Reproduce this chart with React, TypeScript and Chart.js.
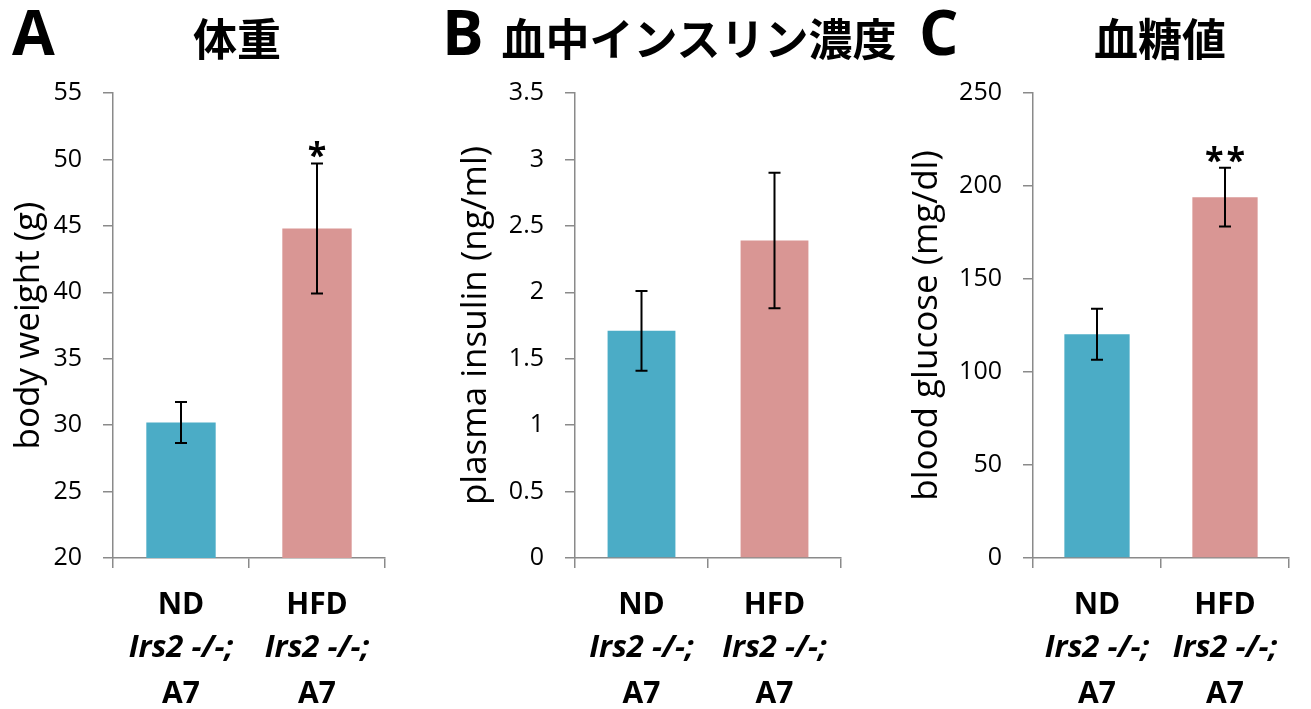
import { useEffect, useRef } from "react";
import { Chart, registerables } from "chart.js";

Chart.register(...registerables);

// Groups and the two fixed lines printed under each group name
const groups = ["ND", "HFD"];
const genotypeLine = "Irs2 -/-;";
const strainLine = "A7";

// Body weight (g): mean, SEM, significance marks, axis [min, max, step]
const bodyWeight = [30.2, 44.8];
const bodyWeightSem = [1.55, 4.9];
const bodyWeightMarks = ["", "*"];
const bodyWeightAxis = [20, 55, 5];

// Plasma insulin (ng/ml)
const insulin = [1.71, 2.39];
const insulinSem = [0.3, 0.51];
const insulinMarks = ["", ""];
const insulinAxis = [0, 3.5, 0.5];

// Blood glucose (mg/dl)
const glucose = [120.3, 194];
const glucoseSem = [13.7, 15.8];
const glucoseMarks = ["", "**"];
const glucoseAxis = [0, 250, 50];

const barColors = ["#4BACC6", "#D99694"];
const axisColor = "#8a8a8a";
const latin = "'Open Sans', 'Noto Sans', sans-serif";
const cjk = "'Noto Sans CJK JP', 'Noto Sans', sans-serif";

// Draws SEM whiskers and significance asterisks above each bar
const errorBarsPlugin = {
  id: "errorBars",
  afterDatasetsDraw(chart: any, _args: any, opts: any) {
    const { ctx } = chart;
    const meta = chart.getDatasetMeta(0);
    const y = chart.scales.y;
    const values = chart.data.datasets[0].data as number[];
    const errs: number[] = opts.errors || [];
    const marks: string[] = opts.marks || [];
    ctx.save();
    ctx.strokeStyle = "#000";
    ctx.fillStyle = "#000";
    ctx.lineWidth = 2;
    meta.data.forEach((bar: any, i: number) => {
      const x = bar.x;
      const top = y.getPixelForValue(values[i] + errs[i]);
      const bot = y.getPixelForValue(values[i] - errs[i]);
      ctx.beginPath();
      ctx.moveTo(x, top);
      ctx.lineTo(x, bot);
      ctx.moveTo(x - 6, top);
      ctx.lineTo(x + 6, top);
      ctx.moveTo(x - 6, bot);
      ctx.lineTo(x + 6, bot);
      ctx.stroke();
      if (marks[i]) {
        ctx.font = `bold 34px ${latin}`;
        ctx.textAlign = "center";
        ctx.textBaseline = "alphabetic";
        (ctx as any).letterSpacing = "3px";
        ctx.fillText(marks[i], x + 1.5, top + 4);
        (ctx as any).letterSpacing = "0px";
      }
    });
    ctx.restore();
  },
};

// Three-line group labels under the x axis (bold / bold italic / bold)
const groupLabelsPlugin = {
  id: "groupLabels",
  afterDraw(chart: any) {
    const { ctx } = chart;
    const xs = chart.scales.x;
    const bottom = chart.chartArea.bottom;
    ctx.save();
    ctx.fillStyle = "#000";
    ctx.textAlign = "center";
    ctx.textBaseline = "alphabetic";
    (chart.data.labels as string[]).forEach((g, i) => {
      const x = xs.getPixelForValue(i);
      ctx.font = `bold 30px ${latin}`;
      ctx.fillText(g, x, bottom + 56);
      ctx.font = `italic bold 31px ${latin}`;
      ctx.fillText(genotypeLine, x, bottom + 99);
      ctx.font = `bold 30px ${latin}`;
      ctx.fillText(strainLine, x, bottom + 145);
    });
    ctx.restore();
  },
};

type PanelProps = {
  values: number[];
  errors: number[];
  marks: string[];
  axis: number[];
  yTitle: string;
  left: number;
  width: number;
  axisOffset: number;
  rightPad: number;
  titlePad: number;
};

function Panel(p: PanelProps) {
  const ref = useRef<HTMLCanvasElement | null>(null);
  useEffect(() => {
    if (!ref.current) return;
    const grid = {
      display: true,
      drawOnChartArea: false,
      drawTicks: true,
      tickLength: 10,
      color: axisColor,
      lineWidth: 1.5,
    };
    const border = { display: true, color: axisColor, width: 1.5 };
    const chart = new Chart(ref.current, {
      type: "bar",
      data: {
        labels: groups,
        datasets: [
          {
            data: p.values,
            backgroundColor: barColors,
            categoryPercentage: 1,
            barPercentage: 0.51,
          },
        ],
      },
      options: {
        responsive: false,
        animation: false,
        layout: { padding: { left: 0, right: p.rightPad, top: 93, bottom: 0 } },
        plugins: {
          legend: { display: false },
          tooltip: { enabled: false },
          errorBars: { errors: p.errors, marks: p.marks },
        } as any,
        scales: {
          x: {
            grid: { ...grid, offset: true },
            border,
            ticks: { display: false },
            afterFit: (s: any) => {
              s.height = 151;
            },
          },
          y: {
            min: p.axis[0],
            max: p.axis[1],
            ticks: {
              stepSize: p.axis[2],
              color: "#000",
              padding: 21,
              font: { family: latin, size: 25 },
              callback: (v: any) => String(parseFloat(Number(v).toFixed(2))),
            },
            grid,
            border,
            title: {
              display: true,
              text: p.yTitle,
              color: "#000",
              font: { family: latin, size: 35 },
              padding: { top: p.titlePad, bottom: 0 },
            },
            afterFit: (s: any) => {
              s.width = p.axisOffset;
            },
          },
        },
      } as any,
      plugins: [errorBarsPlugin, groupLabelsPlugin],
    });
    return () => chart.destroy();
  }, []);
  return (
    <canvas
      ref={ref}
      width={p.width}
      height={709}
      style={{ position: "absolute", left: p.left, top: 0, width: p.width, height: 709 }}
    />
  );
}

const letterStyle = (left: number): any => ({
  position: "absolute",
  left,
  top: 0,
  fontFamily: latin,
  fontWeight: 700,
  fontSize: 62,
  lineHeight: "62px",
  color: "#000",
});

const titleStyle = (center: number): any => ({
  position: "absolute",
  left: center - 250,
  width: 500,
  top: 15,
  textAlign: "center",
  fontFamily: cjk,
  fontWeight: 700,
  fontSize: 44,
  lineHeight: "44px",
  color: "#000",
  whiteSpace: "nowrap",
});

export default function App() {
  useEffect(() => {
    document.body.style.margin = "0";
  }, []);
  return (
    <div style={{ position: "relative", width: 1311, height: 709, background: "#fff", overflow: "hidden" }}>
      <Panel
        values={bodyWeight}
        errors={bodyWeightSem}
        marks={bodyWeightMarks}
        axis={bodyWeightAxis}
        yTitle="body weight (g)"
        left={0}
        width={410}
        axisOffset={113}
        rightPad={25}
        titlePad={8}
      />
      <Panel
        values={insulin}
        errors={insulinSem}
        marks={insulinMarks}
        axis={insulinAxis}
        yTitle="plasma insulin (ng/ml)"
        left={440}
        width={420}
        axisOffset={135}
        rightPad={19}
        titlePad={15}
      />
      <Panel
        values={glucose}
        errors={glucoseSem}
        marks={glucoseMarks}
        axis={glucoseAxis}
        yTitle="blood glucose (mg/dl)"
        left={900}
        width={411}
        axisOffset={133}
        rightPad={22}
        titlePad={6}
      />
      <div style={letterStyle(12)}>A</div>
      <div style={titleStyle(237)}>体重</div>
      <div style={letterStyle(442)}>B</div>
      <div style={titleStyle(699)}>血中インスリン濃度</div>
      <div style={letterStyle(919)}>C</div>
      <div style={titleStyle(1160)}>血糖値</div>
    </div>
  );
}
